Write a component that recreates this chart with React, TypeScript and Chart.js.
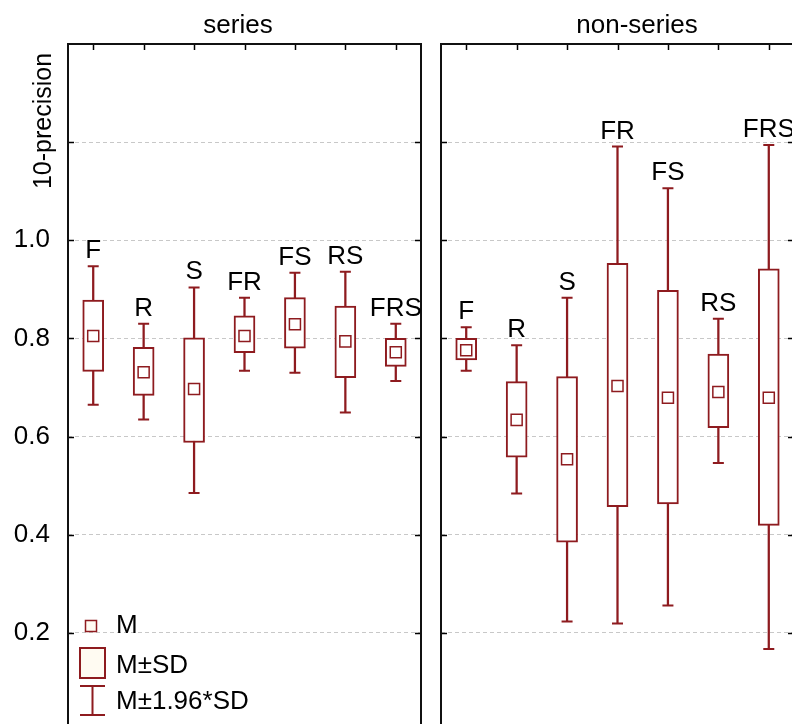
import React, { useEffect, useRef } from 'react';
import { Chart, registerables } from 'chart.js';

Chart.register(...registerables);

const categories = ['F', 'R', 'S', 'FR', 'FS', 'RS', 'FRS'];

const seriesMean = [0.805, 0.731, 0.697, 0.805, 0.829, 0.794, 0.772];
const seriesSdLow = [0.733, 0.684, 0.588, 0.771, 0.780, 0.720, 0.743];
const seriesSdHigh = [0.878, 0.782, 0.801, 0.846, 0.883, 0.866, 0.800];
const seriesCiLow = [0.665, 0.635, 0.485, 0.734, 0.730, 0.649, 0.713];
const seriesCiHigh = [0.947, 0.830, 0.904, 0.883, 0.934, 0.936, 0.830];

const nonSeriesMean = [0.776, 0.634, 0.554, 0.703, 0.679, 0.691, 0.679];
const nonSeriesSdLow = [0.756, 0.558, 0.385, 0.457, 0.463, 0.618, 0.419];
const nonSeriesSdHigh = [0.800, 0.712, 0.722, 0.953, 0.898, 0.768, 0.942];
const nonSeriesCiLow = [0.734, 0.484, 0.223, 0.219, 0.256, 0.546, 0.167];
const nonSeriesCiHigh = [0.823, 0.786, 0.883, 1.191, 1.106, 0.840, 1.194];

const yTickLabels = ['0.2', '0.4', '0.6', '0.8', '1.0'];
const panelTitles = ['series', 'non-series'];
const yAxisTitle = '10-precision';
const legendLabels = ['M', 'M±SD', 'M±1.96*SD'];

const RED = '#8e1b1f';
const CREAM = '#fffbf2';
const FONT = '"Liberation Sans", Arial, Helvetica, sans-serif';

function buildDatasets(mean: number[], sdLow: number[], sdHigh: number[], ciLow: number[], ciHigh: number[]) {
  return [
    {
      type: 'bar',
      data: ciLow.map((v, i) => [v, ciHigh[i]]),
      barThickness: 1.6,
      backgroundColor: RED,
      borderWidth: 0,
      grouped: false,
      order: 5,
    },
    {
      type: 'bar',
      data: sdLow.map((v, i) => [v, sdHigh[i]]),
      barThickness: 21,
      backgroundColor: '#ffffff',
      borderColor: RED,
      borderWidth: 2,
      borderSkipped: false,
      grouped: false,
      order: 4,
    },
    {
      type: 'line',
      data: ciHigh,
      showLine: false,
      pointStyle: 'line',
      pointRadius: 5.5,
      pointBorderColor: RED,
      pointBorderWidth: 2,
      order: 3,
    },
    {
      type: 'line',
      data: ciLow,
      showLine: false,
      pointStyle: 'line',
      pointRadius: 5.5,
      pointBorderColor: RED,
      pointBorderWidth: 2,
      order: 2,
    },
    {
      type: 'line',
      data: mean,
      showLine: false,
      pointStyle: 'rect',
      pointRadius: 7.8,
      pointBackgroundColor: '#ffffff',
      pointBorderColor: RED,
      pointBorderWidth: 1.5,
      order: 1,
    },
  ];
}

const decorPlugin = {
  id: 'panelDecor',
  afterDraw(chart: any, _args: any, opts: any) {
    const ctx = chart.ctx;
    const { left, top, right, bottom } = chart.chartArea;
    const xs = chart.scales.x;
    const ys = chart.scales.y;
    ctx.save();

    // inward ticks on y
    ctx.strokeStyle = '#000';
    ctx.lineWidth = 1.5;
    ys.ticks.forEach((t: any) => {
      const v = t.value;
      if (v <= 0.0001 || v >= 1.3999) return;
      const py = Math.round(ys.getPixelForValue(v)) + 0.5;
      ctx.beginPath();
      ctx.moveTo(left, py);
      ctx.lineTo(left + 6, py);
      ctx.moveTo(right - 6, py);
      ctx.lineTo(right, py);
      ctx.stroke();
    });
    // inward ticks on top at categories
    categories.forEach((_c, i) => {
      const px = Math.round(xs.getPixelForValue(i)) + 0.5;
      ctx.beginPath();
      ctx.moveTo(px, top);
      ctx.lineTo(px, top + 6);
      ctx.stroke();
    });

    // frame
    ctx.lineWidth = 2;
    ctx.strokeStyle = '#111';
    ctx.strokeRect(left, top, right - left, bottom - top);

    // category labels
    ctx.fillStyle = '#000';
    ctx.font = `26px ${FONT}`;
    ctx.textAlign = 'center';
    ctx.textBaseline = 'alphabetic';
    const hi: number[] = opts.ciHigh;
    categories.forEach((c, i) => {
      const px = xs.getPixelForValue(i);
      const py = ys.getPixelForValue(hi[i]);
      ctx.fillText(c, px, py - 8);
    });

    // panel title
    ctx.fillText(opts.title, opts.titleX, 33);

    if (opts.showLegend) {
      // y-axis title
      ctx.save();
      ctx.font = `25px ${FONT}`;
      ctx.translate(44, 121);
      ctx.rotate(-Math.PI / 2);
      ctx.textAlign = 'center';
      ctx.textBaseline = 'middle';
      ctx.fillText(yAxisTitle, 0, 0);
      ctx.restore();

      // legend
      ctx.strokeStyle = RED;
      ctx.fillStyle = CREAM;
      ctx.lineWidth = 1.5;
      ctx.fillRect(85.5, 620.5, 11, 11);
      ctx.strokeRect(85.5, 620.5, 11, 11);
      ctx.lineWidth = 2;
      ctx.fillRect(80, 648, 25, 30);
      ctx.strokeRect(80, 648, 25, 30);
      ctx.beginPath();
      ctx.moveTo(80, 686);
      ctx.lineTo(105, 686);
      ctx.moveTo(92.5, 686);
      ctx.lineTo(92.5, 715);
      ctx.moveTo(80, 715);
      ctx.lineTo(105, 715);
      ctx.stroke();

      ctx.fillStyle = '#000';
      ctx.font = `26px ${FONT}`;
      ctx.textAlign = 'left';
      ctx.textBaseline = 'alphabetic';
      ctx.fillText(legendLabels[0], 116, 633);
      ctx.fillText(legendLabels[1], 116, 673);
      ctx.fillText(legendLabels[2], 116, 709);
    }
    ctx.restore();
  },
};

function makeOptions(isLeft: boolean, title: string, titleX: number, ciHigh: number[]) {
  return {
    responsive: false,
    animation: false,
    devicePixelRatio: 1,
    events: [],
    layout: {
      padding: isLeft
        ? { left: 0, top: 44, right: 10, bottom: 14 }
        : { left: 10, top: 44, right: 17, bottom: 14 },
    },
    plugins: {
      legend: { display: false },
      tooltip: { enabled: false },
      title: { display: false },
      panelDecor: { title, titleX, showLegend: isLeft, ciHigh },
    },
    scales: {
      x: {
        type: 'category',
        display: false,
        offset: true,
        grid: { display: false },
      },
      y: {
        type: 'linear',
        min: 0,
        max: 1.4,
        afterFit: (s: any) => {
          s.width = isLeft ? 68 : 0;
          s.paddingTop = 0;
          s.paddingBottom = 0;
        },
        ticks: {
          display: isLeft,
          stepSize: 0.2,
          padding: 18,
          color: '#000',
          font: { family: FONT, size: 26 },
          callback: (v: any) => {
            const s = Number(v).toFixed(1);
            return yTickLabels.includes(s) ? s : '';
          },
        },
        grid: {
          color: '#c8c8c8',
          lineWidth: 1,
          drawTicks: false,
        },
        border: { display: false, dash: [4, 3] },
      },
    },
  };
}

export default function App() {
  const leftRef = useRef<HTMLCanvasElement | null>(null);
  const rightRef = useRef<HTMLCanvasElement | null>(null);

  useEffect(() => {
    Chart.defaults.font.family = FONT;
    const left = new Chart(leftRef.current as HTMLCanvasElement, {
      type: 'bar',
      data: {
        labels: categories,
        datasets: buildDatasets(seriesMean, seriesSdLow, seriesSdHigh, seriesCiLow, seriesCiHigh) as any,
      },
      options: makeOptions(true, panelTitles[0], 238, seriesCiHigh) as any,
      plugins: [decorPlugin],
    });
    const right = new Chart(rightRef.current as HTMLCanvasElement, {
      type: 'bar',
      data: {
        labels: categories,
        datasets: buildDatasets(nonSeriesMean, nonSeriesSdLow, nonSeriesSdHigh, nonSeriesCiLow, nonSeriesCiHigh) as any,
      },
      options: makeOptions(false, panelTitles[1], 206, nonSeriesCiHigh) as any,
      plugins: [decorPlugin],
    });
    return () => {
      left.destroy();
      right.destroy();
    };
  }, []);

  return (
    <div
      style={{
        position: 'fixed',
        left: 0,
        top: 0,
        width: 792,
        height: 724,
        overflow: 'hidden',
        background: '#fff',
      }}
    >
      <canvas
        ref={leftRef}
        width={431}
        height={745}
        style={{ position: 'absolute', left: 0, top: 0, display: 'block' }}
      />
      <canvas
        ref={rightRef}
        width={380}
        height={745}
        style={{ position: 'absolute', left: 431, top: 0, display: 'block' }}
      />
    </div>
  );
}
